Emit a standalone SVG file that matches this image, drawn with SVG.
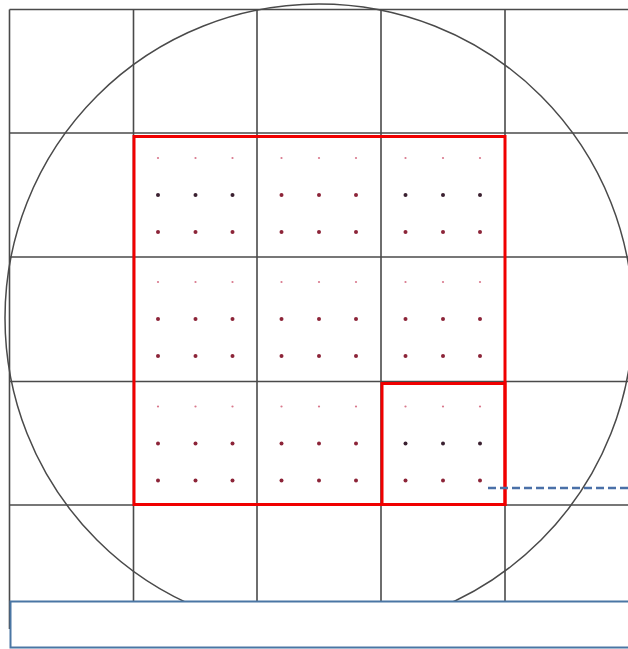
<svg xmlns="http://www.w3.org/2000/svg" width="628" height="649" viewBox="0 0 628 649">
<style>
.g{stroke:#4a4a4a;stroke-width:1.6;fill:none}
.red{stroke:#f00000;stroke-width:3;fill:none}
.lt{fill:#d9788c}
.dk{fill:#8c2438}
.bk{fill:#3a2030}
</style>
<defs>
<g id="dots">
<circle class="lt" cx="24.5" cy="25" r="1.1"/>
<circle class="lt" cx="62" cy="25" r="1.1"/>
<circle class="lt" cx="99" cy="25" r="1.1"/>
<circle class="dk" cx="24.5" cy="62" r="2"/>
<circle class="dk" cx="62" cy="62" r="2"/>
<circle class="dk" cx="99" cy="62" r="2"/>
<circle class="dk" cx="24.5" cy="99" r="2"/>
<circle class="dk" cx="62" cy="99" r="2"/>
<circle class="dk" cx="99" cy="99" r="2"/>
</g>
<g id="dots2">
<circle class="lt" cx="24.5" cy="25" r="1.1"/>
<circle class="lt" cx="62" cy="25" r="1.1"/>
<circle class="lt" cx="99" cy="25" r="1.1"/>
<circle class="bk" cx="24.5" cy="62" r="2"/>
<circle class="bk" cx="62" cy="62" r="2"/>
<circle class="bk" cx="99" cy="62" r="2"/>
<circle class="dk" cx="24.5" cy="99" r="2"/>
<circle class="dk" cx="62" cy="99" r="2"/>
<circle class="dk" cx="99" cy="99" r="2"/>
</g>
</defs>
<rect width="628" height="649" fill="#ffffff"/>
<g id="grid">
<line class="g" x1="9.5" y1="9.5" x2="9.5" y2="629"/>
<line class="g" x1="133.5" y1="9.5" x2="133.5" y2="601"/>
<line class="g" x1="257" y1="9.5" x2="257" y2="601"/>
<line class="g" x1="381" y1="9.5" x2="381" y2="601"/>
<line class="g" x1="505" y1="9.5" x2="505" y2="601"/>
<line class="g" x1="9.5" y1="9.5" x2="628" y2="9.5"/>
<line class="g" x1="9.5" y1="133" x2="628" y2="133"/>
<line class="g" x1="9.5" y1="257" x2="628" y2="257"/>
<line class="g" x1="9.5" y1="381.5" x2="628" y2="381.5"/>
<line class="g" x1="9.5" y1="505" x2="628" y2="505"/>
</g>
<g id="wafer">
<circle cx="319" cy="318" r="314" fill="none" stroke="#4a4a4a" stroke-width="1.5"/>
</g>
<g id="die-r1c1"><use href="#dots2" x="133.5" y="133"/></g>
<g id="die-r1c2"><use href="#dots" x="257" y="133"/></g>
<g id="die-r1c3"><use href="#dots2" x="381" y="133"/></g>
<g id="die-r2c1"><use href="#dots" x="133.5" y="257"/></g>
<g id="die-r2c2"><use href="#dots" x="257" y="257"/></g>
<g id="die-r2c3"><use href="#dots" x="381" y="257"/></g>
<g id="die-r3c1"><use href="#dots" x="133.5" y="381.5"/></g>
<g id="die-r3c2"><use href="#dots" x="257" y="381.5"/></g>
<g id="die-r3c3"><use href="#dots2" x="381" y="381.5"/></g>
<g id="field">
<rect class="red" x="134" y="136.5" width="371" height="368"/>
</g>
<g id="selected-die">
<rect class="red" x="382" y="383.5" width="123" height="121"/>
</g>
<g id="connectors">
<line x1="488" y1="488" x2="628" y2="488" stroke="#4a70a8" stroke-width="2.5" stroke-dasharray="8 4"/>
</g>
<g id="panel">
<rect x="10.5" y="601.5" width="630" height="46" fill="#ffffff" stroke="#4a76a4" stroke-width="2"/>
</g>
</svg>
